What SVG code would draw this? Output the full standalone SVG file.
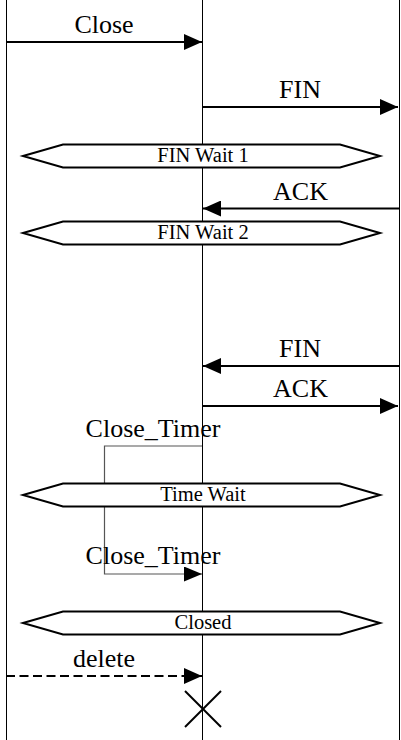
<svg xmlns="http://www.w3.org/2000/svg" width="401" height="740" viewBox="0 0 401 740">
  <style>
    .lane { stroke: #000; stroke-width: 1; fill: none; }
    .msg { stroke: #000; stroke-width: 2; fill: none; }
    .self { stroke: #555; stroke-width: 1.2; fill: none; }
    .state { fill: #fff; stroke: #000; stroke-width: 2; }
    .lbl { font-family: "Liberation Serif", "Times New Roman", serif; font-size: 26px; fill: #000; text-anchor: middle; }
    .slbl { font-family: "Liberation Serif", "Times New Roman", serif; font-size: 20.5px; fill: #000; text-anchor: middle; }
  </style>
  <defs>
    <marker id="arrow" markerWidth="9" markerHeight="8" refX="9" refY="4" orient="auto" markerUnits="strokeWidth">
      <path d="M0,0 L9,4 L0,8 z" fill="#000"/>
    </marker>
    <marker id="arrowSelf" markerWidth="18" markerHeight="15" refX="18" refY="7.5" orient="auto" markerUnits="userSpaceOnUse">
      <path d="M0,0 L18,7.5 L0,15 z" fill="#000"/>
    </marker>
  </defs>

  <rect width="401" height="740" fill="#fff"/>

  <!-- lifelines and frame edges -->
  <g id="lifelines">
    <line class="lane" x1="6.5" y1="0" x2="6.5" y2="740"/>
    <line class="lane" x1="202.5" y1="0" x2="202.5" y2="740"/>
    <line class="lane" x1="399.5" y1="0" x2="399.5" y2="740"/>
  </g>

  <!-- messages -->
  <g id="connectors">
    <line class="msg" x1="6" y1="42" x2="202" y2="42" marker-end="url(#arrow)"/>
    <text class="lbl" x="104" y="33">Close</text>

    <line class="msg" x1="203" y1="107" x2="398" y2="107" marker-end="url(#arrow)"/>
    <text class="lbl" x="300" y="98">FIN</text>

    <line class="msg" x1="399" y1="208.5" x2="203" y2="208.5" marker-end="url(#arrow)"/>
    <text class="lbl" x="300.5" y="200">ACK</text>

    <line class="msg" x1="399" y1="366" x2="203" y2="366" marker-end="url(#arrow)"/>
    <text class="lbl" x="300" y="357">FIN</text>

    <line class="msg" x1="203" y1="406" x2="398" y2="406" marker-end="url(#arrow)"/>
    <text class="lbl" x="300.5" y="397">ACK</text>

    <polyline class="self" points="202,446 104.5,446 104.5,574 202,574" marker-end="url(#arrowSelf)"/>
    <text class="lbl" x="153" y="437">Close_Timer</text>
    <text class="lbl" x="153" y="564">Close_Timer</text>

    <line class="msg" x1="6" y1="676" x2="202" y2="676" stroke-dasharray="9,4.5" marker-end="url(#arrow)"/>
    <text class="lbl" x="104" y="667">delete</text>
  </g>

  <!-- states -->
  <g id="state-fin-wait-1">
    <polygon class="state" points="23,156 63,144.5 340,144.5 380,156 340,167.5 63,167.5"/>
    <text class="slbl" x="203" y="161.5">FIN Wait 1</text>
  </g>
  <g id="state-fin-wait-2">
    <polygon class="state" points="23,233 63,221.5 340,221.5 380,233 340,244.5 63,244.5"/>
    <text class="slbl" x="203" y="238.5">FIN Wait 2</text>
  </g>
  <g id="state-time-wait">
    <polygon class="state" points="23,495 63,483.5 340,483.5 380,495 340,506.5 63,506.5"/>
    <text class="slbl" x="203" y="501">Time Wait</text>
  </g>
  <g id="state-closed">
    <polygon class="state" points="23,623 63,611.5 340,611.5 380,623 340,634.5 63,634.5"/>
    <text class="slbl" x="203" y="628.5">Closed</text>
  </g>

  <!-- lifeline destruction -->
  <g id="destroy">
    <line class="msg" x1="185" y1="691" x2="221" y2="727"/>
    <line class="msg" x1="221" y1="691" x2="185" y2="727"/>
  </g>
</svg>
